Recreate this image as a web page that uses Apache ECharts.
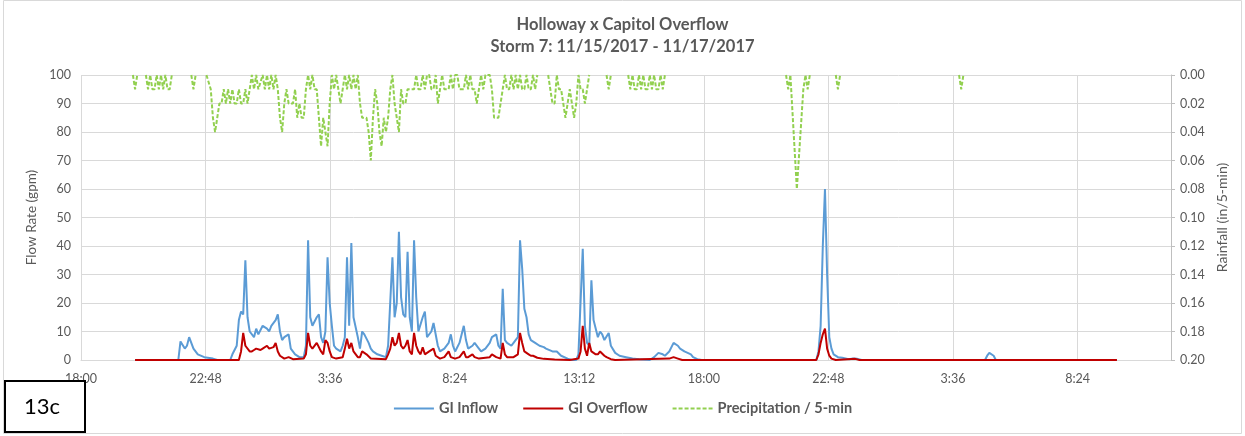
<!DOCTYPE html>
<html>
<head>
<meta charset="utf-8">
<script src="https://cdn.jsdelivr.net/npm/echarts@6/dist/echarts.min.js"></script>
<style>
  html, body { margin: 0; padding: 0; background: #fff; }
  #chart { width: 1245px; height: 436px; }
</style>
</head>
<body>
<div id="chart"></div>
<script>
// x values are minutes after 18:00 on 11/15/2017
const xLabels = ['18:00', '22:48', '3:36', '8:24', '13:12', '18:00', '22:48', '3:36', '8:24']

// GI Inflow (gpm)
const inflow = [
  [125, 0], [225, 0], [230, 6.5], [240, 4], [245, 5], [250, 8], [260, 4], [270, 2], [285, 1], [305, 0.5], [315, 0],
  [345, 0], [350, 2], [360, 5], [365, 14], [370, 17], [375, 16], [380, 35], [385, 15], [390, 10], [400, 8], [405, 11],
  [410, 9], [420, 12], [430, 11], [435, 10], [440, 12], [450, 14], [455, 16], [460, 10], [465, 7], [470, 8], [480, 9],
  [485, 4], [495, 2], [505, 1], [515, 1], [520, 5], [525, 42], [530, 15], [535, 12], [545, 15], [550, 16], [555, 8],
  [560, 6], [565, 10], [570, 36], [575, 20], [580, 12], [585, 5], [590, 4], [600, 3], [605, 5], [610, 8], [615, 36],
  [620, 12], [625, 41], [630, 15], [640, 8], [645, 4], [650, 10], [655, 9], [665, 6], [670, 4], [675, 3], [685, 2],
  [695, 1.5], [705, 1], [710, 5], [720, 36], [725, 15], [730, 20], [735, 45], [740, 22], [745, 16], [750, 15], [755, 38],
  [760, 15], [765, 10], [770, 42], [775, 22], [780, 10], [790, 15], [795, 17], [800, 8], [810, 10], [815, 13], [825, 5],
  [830, 3], [840, 4], [850, 6], [855, 9], [860, 5], [865, 3], [875, 6], [885, 12], [890, 7], [895, 4], [905, 5], [910, 6],
  [920, 4], [925, 3], [935, 4], [945, 6], [950, 8], [960, 9], [965, 5], [970, 4], [975, 25], [980, 7], [985, 6], [995, 5],
  [1000, 6], [1010, 8], [1015, 42], [1020, 32], [1025, 18], [1030, 15], [1035, 9], [1040, 7], [1050, 6], [1060, 5],
  [1070, 4.5], [1075, 4], [1090, 3], [1100, 3], [1110, 1.5], [1125, 0.5], [1135, 0], [1145, 0], [1150, 2], [1160, 39],
  [1165, 12], [1170, 6], [1175, 5], [1180, 28], [1185, 14], [1195, 8], [1200, 10], [1205, 9], [1210, 7], [1220, 9.5],
  [1225, 5], [1235, 2.5], [1245, 1.5], [1260, 1], [1275, 0.5], [1290, 0.3], [1315, 0], [1325, 1], [1335, 2.5], [1345, 2],
  [1350, 1.5], [1360, 3], [1370, 6], [1380, 5], [1385, 4], [1395, 3], [1410, 2], [1415, 1], [1425, 0.3], [1435, 0],
  [1700, 0], [1705, 3], [1710, 12], [1715, 40], [1720, 60], [1725, 30], [1730, 8], [1735, 4], [1740, 2], [1750, 1],
  [1760, 0.8], [1775, 0.3], [1785, 0.5], [1795, 0.4], [1805, 0],
  [2090, 0], [2095, 1.5], [2100, 2.5], [2110, 1.5], [2115, 0], [2395, 0]
]

// GI Overflow (gpm)
const overflow = [
  [125, 0], [365, 0], [370, 3], [375, 9.5], [380, 5], [390, 3], [395, 3], [400, 3.5], [405, 4], [415, 3.5], [420, 4],
  [430, 5], [435, 4], [445, 4.5], [450, 6], [455, 3], [460, 1.5], [470, 0.5], [480, 1], [490, 0.3], [515, 0.5], [520, 2],
  [525, 9.5], [530, 5], [535, 4], [545, 6], [555, 3], [560, 2], [565, 7], [570, 6], [575, 3], [580, 1], [590, 0.5],
  [605, 1], [610, 4], [615, 7.5], [620, 4], [625, 6], [630, 3], [640, 1], [645, 1], [650, 3], [660, 2], [670, 0.5],
  [705, 0.3], [710, 2], [715, 4], [720, 8], [725, 5], [730, 6], [735, 9.5], [740, 5], [745, 4], [750, 5], [755, 7],
  [760, 3], [765, 2], [770, 9.5], [775, 5], [780, 3], [785, 2], [790, 4.5], [795, 2], [805, 3], [815, 4], [820, 1.5],
  [830, 0.5], [840, 1], [850, 3], [855, 1], [865, 0.5], [875, 1], [885, 3], [890, 1], [895, 1], [905, 2], [910, 1],
  [920, 0.5], [945, 1], [950, 2], [960, 1], [970, 0.5], [975, 6], [980, 2], [985, 1], [1000, 1], [1010, 2], [1015, 9.5],
  [1020, 6], [1025, 3], [1035, 2], [1040, 1.5], [1045, 1.5], [1055, 0.8], [1070, 0.4], [1095, 0.2], [1130, 0],
  [1150, 0.5], [1155, 3], [1160, 12], [1165, 4], [1170, 1.5], [1175, 6], [1180, 3], [1190, 2], [1195, 2], [1200, 3],
  [1210, 1.5], [1215, 1], [1225, 0.3], [1235, 0], [1360, 0.5], [1370, 1], [1380, 0.5], [1390, 0],
  [1700, 0], [1705, 2], [1710, 6], [1715, 9], [1720, 11], [1725, 4], [1730, 1.5], [1735, 0.5], [1745, 0],
  [1790, 0.4], [1800, 0], [2395, 0]
]

// Precipitation (in / 5-min), null = no record
const rain = [
  [120, 0], [125, 0.01], [130, 0], [135, null],
  [150, 0], [155, 0.01], [160, 0], [165, 0.01], [170, 0.01], [175, 0], [180, 0.01], [185, 0], [190, 0.01], [195, 0],
  [200, 0.01], [205, 0.01], [210, 0], [215, null],
  [255, 0], [260, 0.01], [265, 0], [270, null],
  [290, 0], [300, 0.01], [305, 0.03], [310, 0.04], [315, 0.03], [320, 0.02], [325, 0.02], [330, 0.01], [335, 0.02],
  [340, 0.01], [345, 0.02], [350, 0.01], [355, 0.02], [360, 0.02], [365, 0.01], [370, 0.02], [375, 0.02], [380, 0.01],
  [385, 0.02], [390, 0.01], [395, 0], [400, 0.01], [405, 0], [410, 0.01], [420, 0], [425, 0.01], [430, 0], [435, 0.01],
  [440, 0], [445, 0.01], [450, 0], [455, 0.01], [460, 0.03], [465, 0.04], [470, 0.02], [475, 0.01], [480, 0.02],
  [485, 0.02], [490, 0.02], [495, 0.01], [500, 0.03], [505, 0.02], [510, 0.03], [515, 0.03], [520, 0.01], [525, 0],
  [530, 0.01], [535, 0], [540, 0.01], [545, 0.01], [550, 0.03], [555, 0.05], [560, 0.03], [565, 0.04], [570, 0.05],
  [575, 0.02], [580, 0], [585, 0.01], [590, 0], [595, 0.01], [600, 0.02], [605, 0.01], [610, 0], [615, 0.01], [620, 0],
  [625, 0.01], [630, 0], [635, 0.01], [640, 0], [645, 0.02], [650, 0.03], [655, 0.03], [660, 0.03], [665, 0.04],
  [670, 0.06], [675, 0.03], [680, 0.01], [685, 0.02], [690, 0.04], [695, 0.05], [700, 0.03], [705, 0.04], [710, 0.03],
  [715, 0.01], [720, 0], [725, 0.02], [730, 0.03], [735, 0.04], [740, 0.01], [745, 0.02], [750, 0.02], [755, 0.01],
  [760, 0.01], [765, 0.01], [770, 0.01], [775, 0], [780, 0.01], [785, 0.01], [790, 0], [795, 0.01], [800, 0], [805, 0],
  [810, 0.01], [815, 0.01], [820, 0], [825, 0.02], [830, 0.01], [835, 0], [840, 0.01], [845, 0.01], [850, 0.01],
  [855, 0], [860, 0.01], [865, 0], [870, 0], [875, 0.01], [880, 0.01], [885, 0.01], [890, 0], [895, 0.01], [900, 0],
  [905, 0.01], [910, 0.01], [915, 0.02], [920, 0.01], [925, 0], [930, 0.01], [935, 0], [940, 0], [945, 0], [950, 0.01],
  [955, 0.03], [960, 0.03], [965, 0.03], [970, 0.02], [975, 0.01], [980, 0], [985, 0.01], [990, 0.01], [995, 0],
  [1000, 0.01], [1005, 0], [1010, 0.01], [1015, 0], [1020, 0.01], [1025, 0.01], [1030, 0], [1035, 0.01], [1040, 0.01],
  [1045, 0], [1050, 0.01], [1055, 0], [1060, null],
  [1080, 0], [1085, 0.01], [1090, 0.02], [1095, 0.02], [1100, 0], [1105, 0.01], [1110, 0.01], [1115, 0.02], [1120, 0.03],
  [1125, 0.02], [1130, 0.01], [1135, 0.02], [1140, 0.03], [1145, 0.02], [1150, 0], [1155, 0.01], [1160, 0.01],
  [1165, 0.02], [1170, 0.01], [1175, 0], [1180, null],
  [1215, 0], [1220, 0.01], [1225, 0], [1230, null],
  [1265, 0], [1270, 0.01], [1275, 0], [1280, 0.01], [1285, 0.01], [1290, 0], [1295, 0.01], [1300, 0], [1305, 0.01],
  [1310, 0.01], [1315, 0], [1320, 0.01], [1325, 0], [1330, 0.01], [1335, 0.01], [1340, 0], [1345, 0.01], [1350, 0],
  [1355, null],
  [1630, 0], [1635, 0.01], [1640, 0], [1655, 0.08], [1670, 0.01], [1675, 0], [1680, 0.01], [1685, 0], [1690, null],
  [1745, 0], [1750, 0.01], [1755, 0], [1760, null],
  [2030, 0], [2035, 0.01], [2040, 0]
]

const textColor = '#595959'
const gridColor = '#d9d9d9'
const font = 'Lato, "Open Sans", sans-serif'

const chart = echarts.init(document.getElementById('chart'))

const option = {
  animation: false,
  textStyle: { fontFamily: font },
  title: {
    text: 'Holloway x Capitol Overflow\nStorm 7: 11/15/2017 - 11/17/2017',
    left: 'center',
    top: 9,
    textStyle: { fontFamily: font, fontSize: 16.5, fontWeight: 'bold', color: textColor, lineHeight: 22 }
  },
  legend: {
    bottom: 15,
    left: 'center',
    itemWidth: 40,
    itemHeight: 10,
    itemGap: 24,
    itemStyle: { opacity: 0 },
    textStyle: { fontFamily: font, fontSize: 14.5, fontWeight: 'bold', color: textColor },
    data: ['GI Inflow', 'GI Overflow', 'Precipitation / 5-min']
  },
  grid: { left: 81, right: 74, top: 75, bottom: 76 },
  xAxis: {
    type: 'value',
    min: 0,
    max: 2520,
    interval: 288,
    axisLine: { lineStyle: { color: gridColor } },
    axisTick: { show: false },
    splitLine: { show: true, lineStyle: { color: gridColor } },
    axisLabel: {
      color: textColor,
      fontSize: 12.5,
      margin: 12,
      formatter: function (v) {
        const i = Math.round(v / 288)
        return Math.abs(v - i * 288) < 1 ? (xLabels[i] || '') : ''
      }
    }
  },
  yAxis: [
    {
      type: 'value',
      min: 0,
      max: 100,
      interval: 10,
      name: 'Flow Rate (gpm)',
      nameLocation: 'middle',
      nameRotate: 90,
      nameGap: 39,
      nameTextStyle: { color: textColor, fontSize: 13.5 },
      axisLine: { show: false },
      axisTick: { show: false },
      splitLine: { lineStyle: { color: gridColor } },
      axisLabel: { color: textColor, fontSize: 12.5, margin: 10 }
    },
    {
      type: 'value',
      min: 0,
      max: 0.2,
      interval: 0.02,
      inverse: true,
      position: 'right',
      name: 'Rainfall (in/5-min)',
      nameLocation: 'middle',
      nameRotate: 90,
      nameGap: 44,
      nameTextStyle: { color: textColor, fontSize: 14 },
      axisLine: { show: true, lineStyle: { color: '#bfbfbf' } },
      axisTick: { show: true, length: 4, lineStyle: { color: '#bfbfbf' } },
      splitLine: { show: false },
      axisLabel: {
        color: textColor,
        fontSize: 12.5,
        margin: 9,
        formatter: function (v) { return v.toFixed(2) }
      }
    }
  ],
  series: [
    {
      name: 'GI Inflow',
      type: 'line',
      yAxisIndex: 0,
      symbol: 'none',
      color: '#5b9bd5',
      lineStyle: { width: 2, color: '#5b9bd5' },
      data: inflow
    },
    {
      name: 'GI Overflow',
      type: 'line',
      yAxisIndex: 0,
      symbol: 'none',
      color: '#c00000',
      lineStyle: { width: 2, color: '#c00000' },
      data: overflow
    },
    {
      name: 'Precipitation / 5-min',
      type: 'line',
      yAxisIndex: 1,
      symbol: 'none',
      connectNulls: false,
      color: '#92d050',
      lineStyle: { width: 2, color: '#92d050', type: [4, 2] },
      data: rain
    }
  ],
  graphic: [
    {
      type: 'rect',
      z: 100,
      shape: { x: 3.5, y: 0.5, width: 1238, height: 433 },
      style: { fill: 'none', stroke: gridColor, lineWidth: 1 }
    },
    {
      type: 'rect',
      z: 101,
      shape: { x: 5, y: 381, width: 80, height: 51 },
      style: { fill: '#ffffff', stroke: '#000000', lineWidth: 2 }
    },
    {
      type: 'text',
      z: 102,
      x: 42,
      y: 407,
      style: {
        text: '13c',
        fill: '#000000',
        font: '22px ' + font,
        textAlign: 'center',
        textVerticalAlign: 'middle'
      }
    }
  ]
}

chart.setOption(option)
</script>
</body>
</html>
